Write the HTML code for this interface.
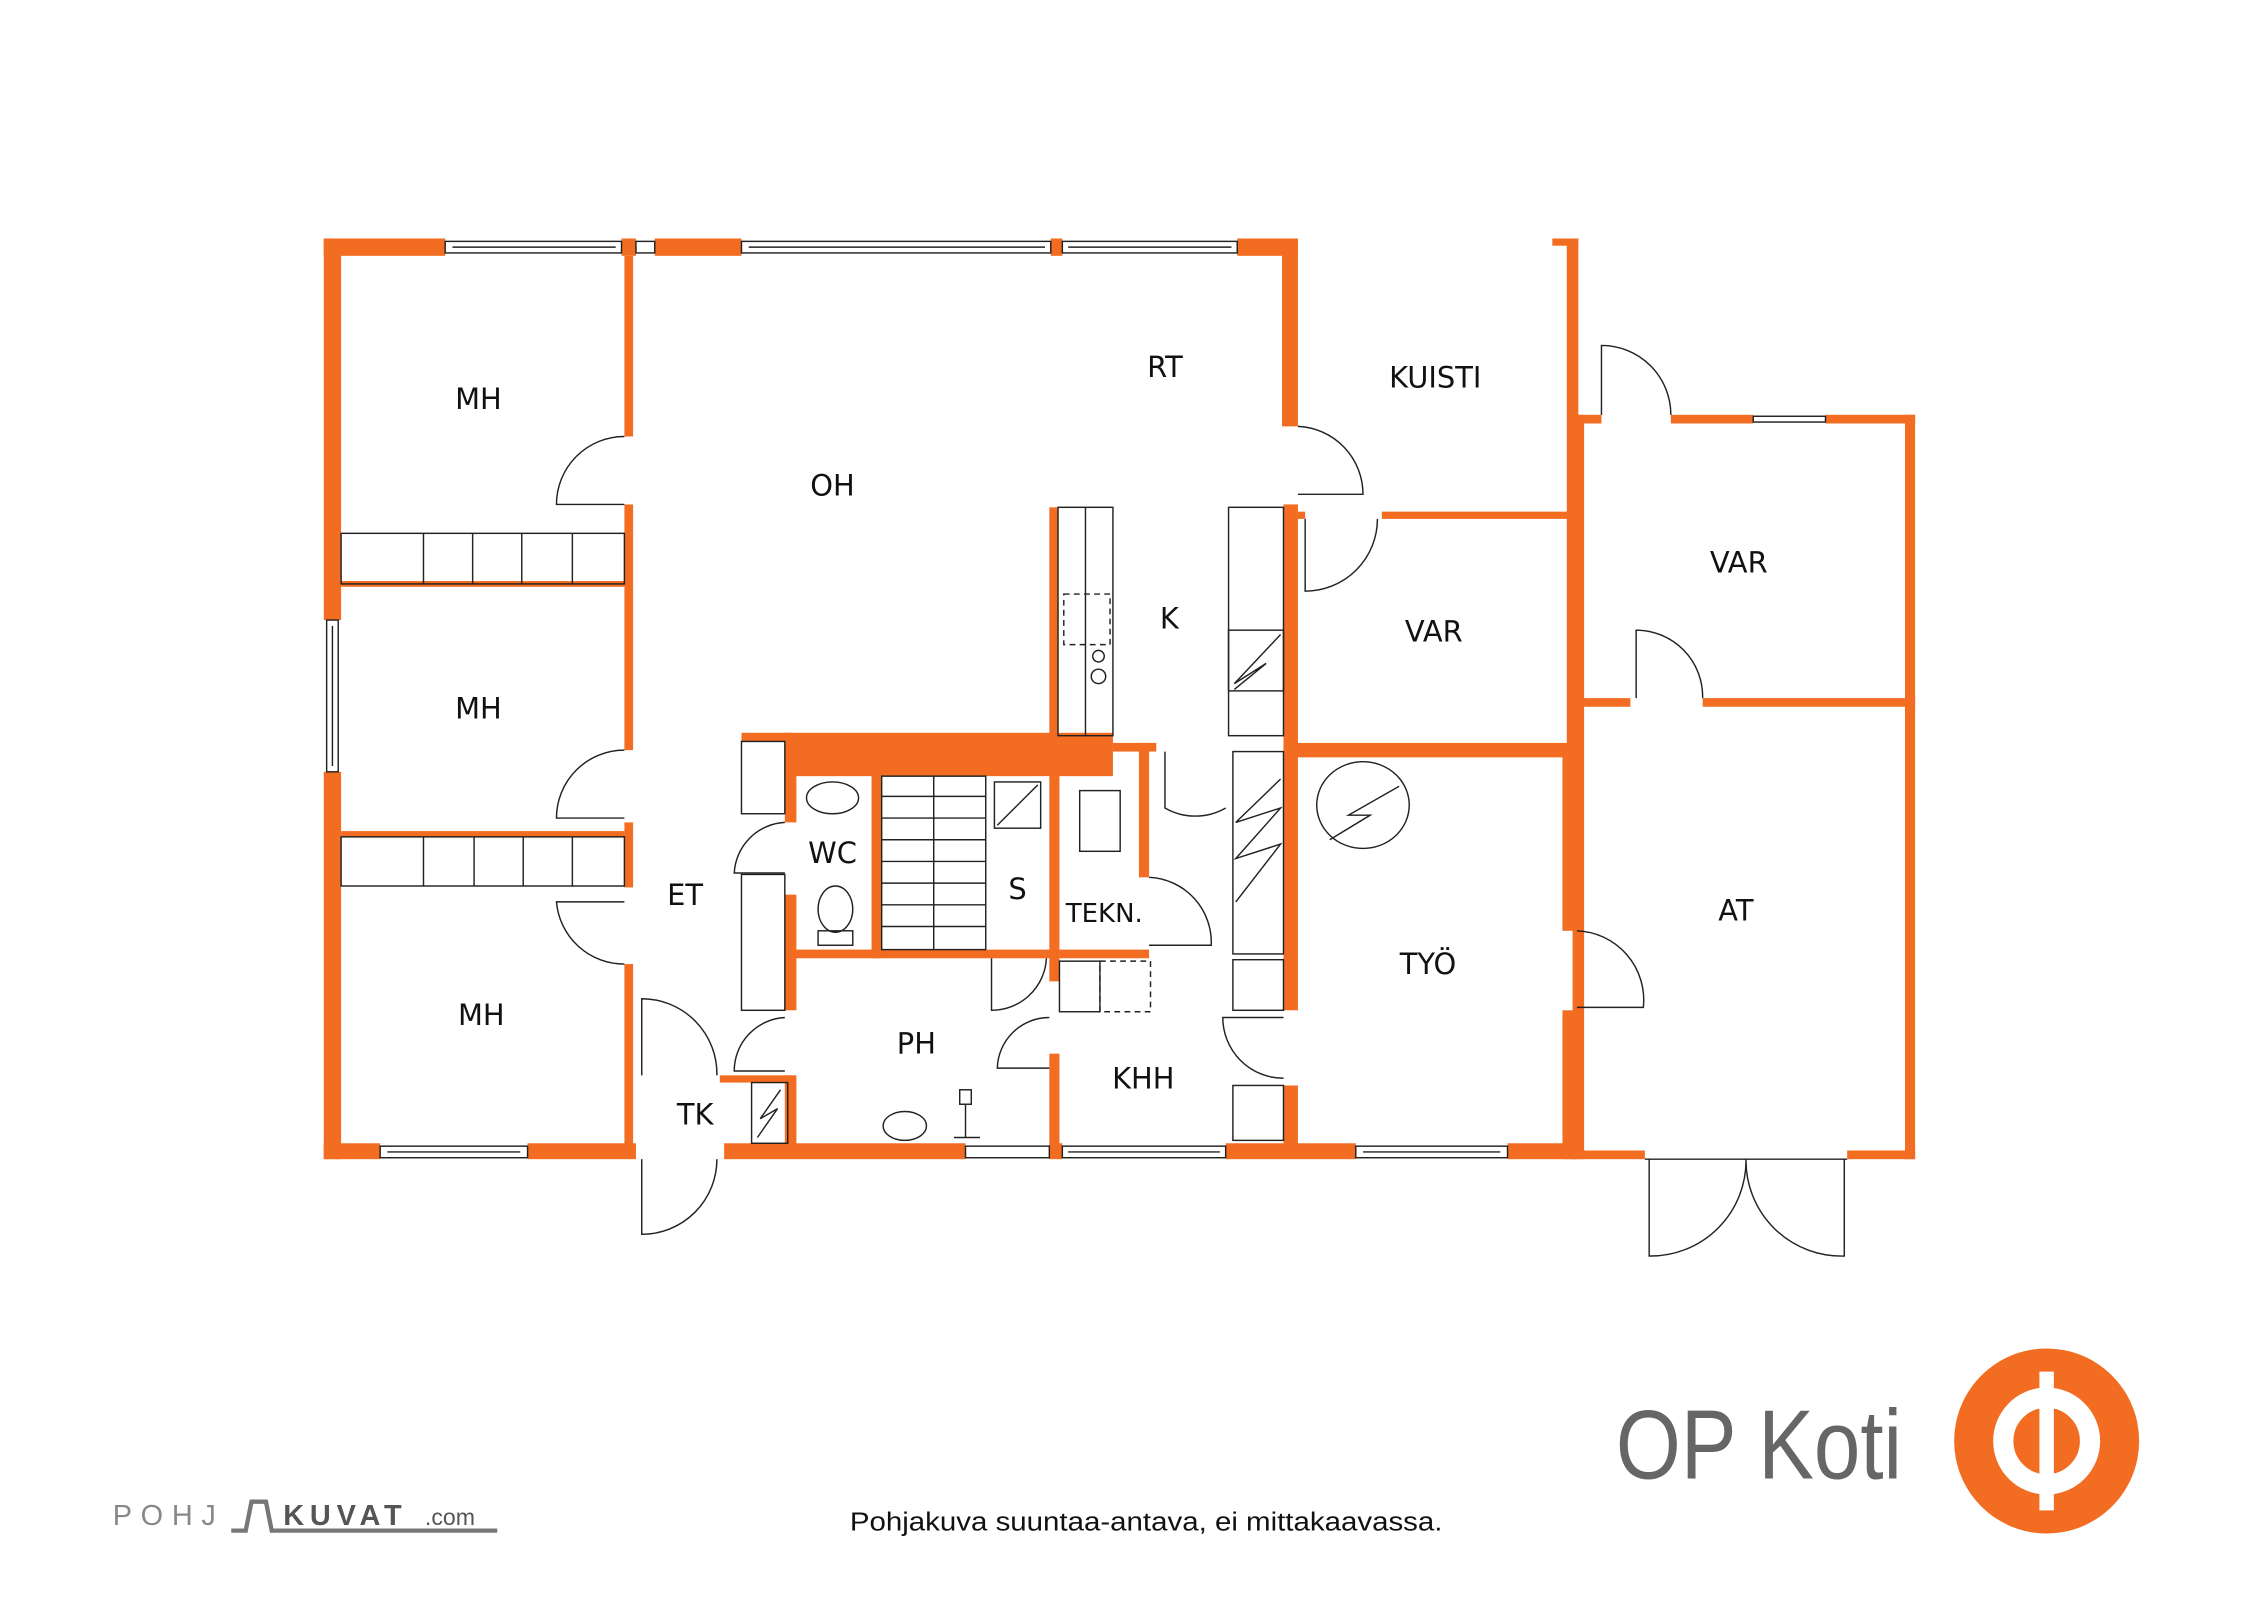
<!DOCTYPE html>
<html><head><meta charset="utf-8"><style>
html,body{margin:0;padding:0;background:#fff;}
svg{display:block;}
text{font-family:"DejaVu Sans","Liberation Sans",sans-serif;fill:#111;}
</style></head><body>
<svg width="2262" height="1600" viewBox="0 0 1565 1107" preserveAspectRatio="none" xmlns="http://www.w3.org/2000/svg">
<rect width="1565" height="1107" fill="#fff"/>
<g transform="translate(-2,-1)">
<g fill="#f26d21">
<rect x="226" y="166" width="12" height="264"/>
<rect x="226" y="535" width="12" height="268"/>
<rect x="226" y="166" width="84" height="12"/>
<rect x="432" y="166" width="10" height="12"/>
<rect x="455" y="166" width="60" height="12"/>
<rect x="729" y="166" width="8" height="12"/>
<rect x="858" y="166" width="42" height="12"/>
<rect x="889" y="166" width="11" height="130"/>
<rect x="226" y="792" width="39" height="11"/>
<rect x="367" y="792" width="75" height="11"/>
<rect x="503" y="792" width="167" height="11"/>
<rect x="728" y="792" width="9" height="11"/>
<rect x="850" y="792" width="90" height="11"/>
<rect x="1045" y="792" width="50" height="11"/>
<rect x="434" y="178" width="6" height="125"/>
<rect x="434" y="350" width="6" height="170"/>
<rect x="434" y="570" width="6" height="45"/>
<rect x="434" y="668" width="6" height="127"/>
<rect x="238" y="403" width="196" height="4"/>
<rect x="238" y="576" width="196" height="4"/>
<rect x="890" y="350" width="10" height="350"/>
<rect x="890" y="752" width="10" height="43"/>
<rect x="728" y="352" width="6" height="158"/>
<rect x="545" y="508" width="227" height="30"/>
<rect x="515" y="508" width="35" height="6"/>
<rect x="772" y="515" width="30" height="6"/>
<rect x="545" y="535" width="8" height="35"/>
<rect x="545" y="620" width="8" height="80"/>
<rect x="545" y="745" width="8" height="50"/>
<rect x="545" y="658" width="185" height="6"/>
<rect x="605" y="535" width="7" height="129"/>
<rect x="728" y="535" width="7" height="145"/>
<rect x="728" y="730" width="7" height="65"/>
<rect x="790" y="515" width="7" height="93"/>
<rect x="735" y="658" width="62" height="6"/>
<rect x="500" y="745" width="50" height="5"/>
<rect x="1076" y="166" width="18" height="5"/>
<rect x="1086" y="166" width="8" height="354"/>
<rect x="958" y="355" width="132" height="5"/>
<rect x="900" y="355" width="5" height="5"/>
<rect x="890" y="515" width="200" height="10"/>
<rect x="1083" y="520" width="10" height="125"/>
<rect x="1083" y="700" width="10" height="103"/>
<rect x="1090" y="288" width="8" height="515"/>
<rect x="1094" y="288" width="16" height="6"/>
<rect x="1158" y="288" width="57" height="6"/>
<rect x="1265" y="288" width="62" height="6"/>
<rect x="1320" y="288" width="7" height="515"/>
<rect x="1094" y="484" width="36" height="6"/>
<rect x="1180" y="484" width="147" height="6"/>
<rect x="1094" y="797" width="46" height="6"/>
<rect x="1280" y="797" width="47" height="6"/>
</g>
<g fill="none" stroke="#222" stroke-width="1">
<rect x="310" y="168" width="122" height="8"/><line x1="315" y1="172" x2="428" y2="172"/>
<rect x="442" y="168" width="13" height="8"/>
<rect x="515" y="168" width="214" height="8"/><line x1="520" y1="172" x2="725" y2="172"/>
<rect x="737" y="168" width="121" height="8"/><line x1="741" y1="172" x2="854" y2="172"/>
<rect x="228" y="430" width="8" height="105"/><line x1="232" y1="434" x2="232" y2="531"/>
<rect x="265" y="794" width="102" height="8"/><line x1="270" y1="798" x2="362" y2="798"/>
<rect x="670" y="794" width="58" height="8"/>
<rect x="737" y="794" width="113" height="8"/><line x1="741" y1="798" x2="846" y2="798"/>
<rect x="940" y="794" width="105" height="8"/><line x1="945" y1="798" x2="1040" y2="798"/>
<rect x="1215" y="289" width="50" height="4"/>
<rect x="238" y="370" width="196" height="35"/>
<line x1="295" y1="370" x2="295" y2="405"/><line x1="329" y1="370" x2="329" y2="405"/><line x1="363" y1="370" x2="363" y2="405"/><line x1="398" y1="370" x2="398" y2="405"/>
<rect x="238" y="580" width="196" height="34"/>
<line x1="295" y1="580" x2="295" y2="614"/><line x1="330" y1="580" x2="330" y2="614"/><line x1="364" y1="580" x2="364" y2="614"/><line x1="398" y1="580" x2="398" y2="614"/>
<path d="M434 303 A47 47 0 0 0 387 350 L434 350"/>
<path d="M434 520 A47 47 0 0 0 387 567 L434 567"/>
<path d="M434 625 L387 625 A47 47 0 0 0 434 668"/>
<rect x="734" y="352" width="38" height="158"/><line x1="753" y1="352" x2="753" y2="510"/>
<rect x="738" y="412" width="32" height="35" stroke-dasharray="4,3"/>
<circle cx="762" cy="455" r="4"/><circle cx="762" cy="469" r="5"/>
<rect x="852" y="352" width="38" height="158"/>
<rect x="852" y="437" width="38" height="42"/>
<polyline points="888,440 856,474 878,460 856,478"/>
<path d="M900 296 A47 47 0 0 1 945 343 L900 343"/>
<path d="M905 360 L905 410 A50 50 0 0 0 955 360"/>
<rect x="515" y="514" width="30" height="50"/>
<rect x="515" y="606" width="30" height="94"/>
<path d="M545 570 A37 37 0 0 0 510 605 L545 605"/>
<path d="M545 705 A37 37 0 0 0 510 742 L545 742"/>
<ellipse cx="578" cy="553" rx="18" ry="11"/>
<ellipse cx="580" cy="630" rx="12" ry="16"/><rect x="568" y="645" width="24" height="10"/>
<rect x="612" y="538" width="72" height="120"/>
<line x1="648" y1="538" x2="648" y2="658"/>
<line x1="612" y1="552" x2="684" y2="552"/><line x1="612" y1="567" x2="684" y2="567"/><line x1="612" y1="582" x2="684" y2="582"/><line x1="612" y1="597" x2="684" y2="597"/><line x1="612" y1="612" x2="684" y2="612"/><line x1="612" y1="627" x2="684" y2="627"/><line x1="612" y1="642" x2="684" y2="642"/>
<rect x="690" y="542" width="32" height="32"/><line x1="692" y1="572" x2="720" y2="544"/>
<rect x="749" y="548" width="28" height="42"/>
<path d="M688 664 L688 700 A38 38 0 0 0 726 664"/>
<path d="M728 705 A36 36 0 0 0 692 740 L728 740"/>
<path d="M797 608 A45 45 0 0 1 840 655 L797 655"/>
<path d="M808 521 L808 560 A42 42 0 0 0 850 560"/>
<rect x="855" y="521" width="35" height="140"/>
<polyline points="888,540 857,570 888,560 857,595 888,585 857,625"/>
<rect x="855" y="665" width="35" height="35"/>
<rect x="855" y="752" width="35" height="38"/>
<path d="M890 705 L848 705 A42 42 0 0 0 890 747"/>
<rect x="735" y="666" width="28" height="35"/>
<rect x="763" y="666" width="35" height="35" stroke-dasharray="4,3"/>
<ellipse cx="628" cy="780" rx="15" ry="10"/>
<rect x="666" y="755" width="8" height="10"/><line x1="670" y1="765" x2="670" y2="788"/><line x1="662" y1="788" x2="680" y2="788"/>
<rect x="522" y="750" width="25" height="42"/><polyline points="542,755 528,775 540,768 526,788"/>
<path d="M446 745 L446 692 A52 52 0 0 1 498 745"/>
<path d="M446 803 L446 855 A52 52 0 0 0 498 803"/>
<ellipse cx="945" cy="558" rx="32" ry="30"/><polyline points="970,545 935,565 950,565 922,582"/>
<path d="M1093 645 A48 48 0 0 1 1139 698 L1093 698"/>
<path d="M1110 288 L1110 240 A48 48 0 0 1 1158 288"/>
<path d="M1134 484 L1134 437 A46 46 0 0 1 1180 484"/>
<path d="M1143 803 L1143 870 A66 66 0 0 0 1210 803 A66 66 0 0 0 1278 870 L1278 803"/>
<line x1="1140" y1="803" x2="1280" y2="803"/>
</g>
<g font-size="20" text-anchor="middle">
<text x="333" y="284">MH</text>
<text x="333" y="498">MH</text>
<text x="335" y="710">MH</text>
<text x="578" y="344">OH</text>
<text x="808" y="262">RT</text>
<text x="811" y="436">K</text>
<text x="476" y="627">ET</text>
<text x="578" y="598">WC</text>
<text x="706" y="623">S</text>
<text x="766" y="639" font-size="18">TEKN.</text>
<text x="636" y="730">PH</text>
<text x="793" y="754">KHH</text>
<text x="483" y="779">TK</text>
<text x="995" y="269">KUISTI</text>
<text x="994" y="445">VAR</text>
<text x="1205" y="397">VAR</text>
<text x="1203" y="638">AT</text>
<text x="990" y="675">TYÖ</text>
</g>
<text x="590" y="1060" textLength="410" lengthAdjust="spacingAndGlyphs" style="font-family:'Liberation Sans',sans-serif;font-size:18px">Pohjakuva suuntaa-antava, ei mittakaavassa.</text>
<text x="1120" y="1024" textLength="198" lengthAdjust="spacingAndGlyphs" style="font-family:'Liberation Sans',sans-serif;font-size:68px;fill:#666">OP Koti</text>
<circle cx="1418" cy="998" r="64" fill="#f26d21"/>
<circle cx="1418" cy="998" r="30" fill="none" stroke="#fff" stroke-width="14"/>
<rect x="1413" y="950" width="10" height="96" fill="#fff"/>
<text x="80" y="1056" style="font-family:'Liberation Sans',sans-serif;font-size:20px;fill:#888;letter-spacing:6px">POHJ</text>
<path d="M162 1060 L172 1060 L176 1040 L186 1040 L190 1060 L346 1060" fill="none" stroke="#777" stroke-width="3"/>
<text x="198" y="1056" style="font-family:'Liberation Sans',sans-serif;font-size:20px;font-weight:bold;fill:#555;letter-spacing:4px">KUVAT</text>
<text x="296" y="1056" style="font-family:'Liberation Sans',sans-serif;font-size:16px;fill:#555">.com</text>
</g>
</svg>
</body></html>
